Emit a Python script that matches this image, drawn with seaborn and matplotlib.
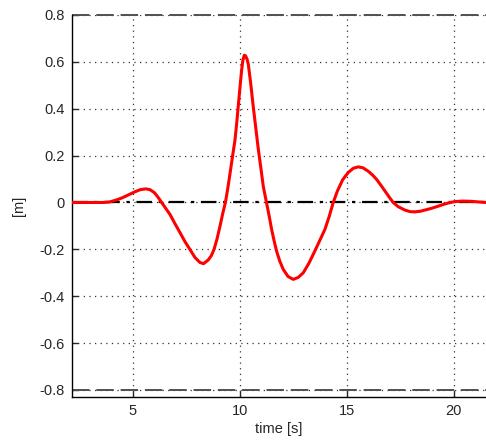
import numpy as np
import pandas as pd
import matplotlib
matplotlib.use('Agg')
import matplotlib.pyplot as plt
import seaborn as sns

# values
time_s = [2.15, 3.0, 3.6, 3.9, 4.2, 4.5, 4.8, 5.1, 5.35, 5.6, 5.79, 6.0,
          6.15, 6.34, 6.53, 6.73, 6.96, 7.2, 7.43, 7.66, 7.9, 8.13, 8.3,
          8.52, 8.66, 8.79, 8.93, 9.07, 9.2, 9.32, 9.43, 9.53, 9.65, 9.77,
          9.85, 9.92, 10.0, 10.08, 10.14, 10.2, 10.26, 10.33, 10.39, 10.5,
          10.62, 10.74, 10.86, 10.98, 11.09, 11.25, 11.37, 11.48, 11.6,
          11.71, 11.86, 12.02, 12.25, 12.49, 12.72, 12.96, 13.23, 13.5,
          13.74, 13.97, 14.17, 14.36, 14.55, 14.8, 15.06, 15.3, 15.53,
          15.75, 16.0, 16.2, 16.39, 16.6, 16.8, 17.0, 17.16, 17.4, 17.7,
          17.95, 18.18, 18.45, 18.7, 18.95, 19.19, 19.45, 19.7, 20.05, 20.4,
          20.8, 21.06, 21.5]
disp_m = [0.0, 0.0, 0.0, 0.002, 0.01, 0.02, 0.033, 0.046, 0.055, 0.058,
          0.055, 0.042, 0.025, 0.0, -0.025, -0.051, -0.09, -0.129, -0.167,
          -0.2, -0.235, -0.256, -0.261, -0.245, -0.227, -0.2, -0.155, -0.10,
          -0.045, 0.0, 0.06, 0.12, 0.195, 0.268, 0.34, 0.41, 0.49, 0.566,
          0.608, 0.628, 0.626, 0.612, 0.59, 0.51, 0.41, 0.318, 0.226, 0.145,
          0.069, -0.005, -0.06, -0.115, -0.165, -0.207, -0.25, -0.285,
          -0.316, -0.328, -0.32, -0.3, -0.258, -0.207, -0.16, -0.115, -0.06,
          0.0, 0.048, 0.097, 0.128, 0.146, 0.152, 0.148, 0.133, 0.117, 0.098,
          0.072, 0.046, 0.02, 0.0, -0.018, -0.032, -0.039, -0.040, -0.037,
          -0.031, -0.025, -0.018, -0.01, -0.003, 0.004, 0.006, 0.005, 0.003,
          0.0]
limit_m = 0.8
x_ticks = [5, 10, 15, 20]
y_ticks = [-0.8, -0.6, -0.4, -0.2, 0, 0.2, 0.4, 0.6, 0.8]
y_ticklabels = ['-0.8', '-0.6', '-0.4', '-0.2', '0', '0.2', '0.4', '0.6', '0.8']

sns.set_style('ticks')
plt.rcParams['font.family'] = ['Liberation Sans', 'DejaVu Sans']
plt.rcParams['axes.unicode_minus'] = False

df = pd.DataFrame({'time': time_s, 'disp': disp_m})

fig = plt.figure(figsize=(4.86, 4.46), dpi=100)
ax = fig.add_axes([72 / 486, 49 / 446, 1 - 72 / 486, (397 - 15) / 446])

ax.axhline(limit_m, color='#505050', ls=(0, (9, 3.5)), lw=1.4, zorder=1,
           clip_on=False)
ax.axhline(-limit_m, color='#505050', ls=(0, (9, 3.5)), lw=1.4, zorder=1)
ax.axhline(0, color='black', ls=(0, (7, 3, 1.5, 3)), lw=1.6, zorder=2)
sns.lineplot(data=df, x='time', y='disp', color='red', lw=2.2, ax=ax,
             zorder=3)

ax.set_xlim(2.15, 21.5)
ax.set_ylim(-0.83, 0.8)
ax.set_xticks(x_ticks)
ax.set_yticks(y_ticks)
ax.set_yticklabels(y_ticklabels)
ax.grid(True, color='#333333', ls=(0, (1, 3.5)), lw=0.9)
ax.tick_params(direction='in', length=4, width=1, labelsize=10.5,
               labelcolor='#262626', pad=5)
for s in ['top', 'right']:
    ax.spines[s].set_visible(False)
for s in ['left', 'bottom']:
    ax.spines[s].set_color('black')
    ax.spines[s].set_linewidth(1)

ax.set_xlabel('time [s]', fontsize=10.5, color='#262626', labelpad=3)
ax.set_ylabel('[m]', fontsize=10.5, color='#262626', labelpad=10)

fig.savefig('out.png', dpi=100)
